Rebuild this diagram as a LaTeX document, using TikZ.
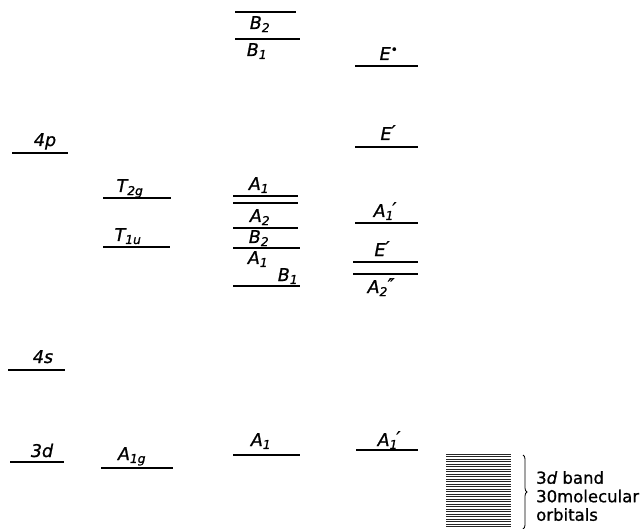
\documentclass[tikz,border=0pt]{standalone}
\usepackage{fontspec}
\setmainfont{DejaVu Sans}
\newfontfamily\labfont{DejaVu Sans}[FakeBold=1]
\usetikzlibrary{decorations.pathreplacing}
\newcommand{\MySub}[1]{\textsubscript{#1}}
\newcommand{\MySubP}[1]{\textsubscript{#1}\kern-1.5pt\raisebox{2pt}{′}}
\newcommand{\MyPrime}{\raisebox{2pt}{′}}
\begin{document}
\begin{tikzpicture}[x=1pt,y=-1pt,
  lvl/.style={line width=1.7pt},
  lab/.style={font=\labfont\fontsize{17.5}{17.5}\selectfont\itshape, inner sep=0pt, anchor=base},
  bandtxt/.style={font=\labfont\fontsize{16.5}{18.5}\selectfont, inner sep=0pt, anchor=north west, align=left}]
\useasboundingbox (0,0) rectangle (642,529);
% column 1: atomic orbitals
\draw[lvl] (12,153) -- (68,153);
\draw[lvl] (8,370) -- (65,370);
\draw[lvl] (10,462) -- (64,462);
\node[lab] (l4p) at (45,146) {4p};
\node[lab] (l4s) at (43,363) {4s};
\node[lab] (l3d) at (42,457) {3d};
% column 2
\draw[lvl] (103,198) -- (171,198);
\draw[lvl] (103,247) -- (170,247);
\draw[lvl] (101,468) -- (173,468);
\node[lab] (lT2g) at (130,192) {T\MySub{2g}};
\node[lab] (lT1u) at (128,241) {T\MySub{1u}};
\node[lab] (lA1g) at (132,460) {A\MySub{1g}};
% column 3
\draw[lvl] (235,12) -- (296,12);
\draw[lvl] (235,39) -- (300,39);
\draw[lvl] (233,196) -- (298,196);
\draw[lvl] (233,203) -- (298,203);
\draw[lvl] (233,228) -- (298,228);
\draw[lvl] (233,248) -- (300,248);
\draw[lvl] (233,286) -- (300,286);
\draw[lvl] (233,455) -- (300,455);
\node[lab] (lB2a) at (260,29) {B\MySub{2}};
\node[lab] (lB1a) at (257,56) {B\MySub{1}};
\node[lab] (lA1a) at (259,190) {A\MySub{1}};
\node[lab] (lA2a) at (260,222) {A\MySub{2}};
\node[lab] (lB2b) at (259,243) {B\MySub{2}};
\node[lab] (lA1b) at (258,264) {A\MySub{1}};
\node[lab] (lB1b) at (288,281) {B\MySub{1}};
\node[lab] (lA1c) at (261,446) {A\MySub{1}};
% column 4
\draw[lvl] (355,66) -- (418,66);
\draw[lvl] (355,147) -- (418,147);
\draw[lvl] (355,223) -- (418,223);
\draw[lvl] (353,262) -- (418,262);
\draw[lvl] (353,274) -- (418,274);
\draw[lvl] (356,450) -- (418,450);
\node[lab] (lEpp) at (389,60) {E\textsuperscript{•}};
\node[lab] (lEpa) at (388,140) {E\MyPrime};
\node[lab] (lA1pa) at (385,217) {A\MySubP{1}};
\node[lab] (lEpb) at (382,256) {E\MyPrime};
\node[lab] (lA2pp) at (381,293) {A\MySub{2}\raisebox{2pt}{″}};
\node[lab] (lA1pb) at (389,446) {A\MySubP{1}};
% 3d band
\fill[white] (446,453) rectangle (511,529);
\foreach \yy in {454.2,456.7,...,528.5}
  \draw[line width=1.3pt, black!85] (446,\yy) -- (511,\yy);
\coordinate (bandTop) at (523,455);
\coordinate (bandBot) at (523,529);
\draw[line width=0.8pt, decorate, decoration={brace, amplitude=4pt}] (bandTop) -- (bandBot);
\node[bandtxt] (bandlabel) at (536,471) {3\textit{d} band\\30molecular\\orbitals};
\end{tikzpicture}
\end{document}
